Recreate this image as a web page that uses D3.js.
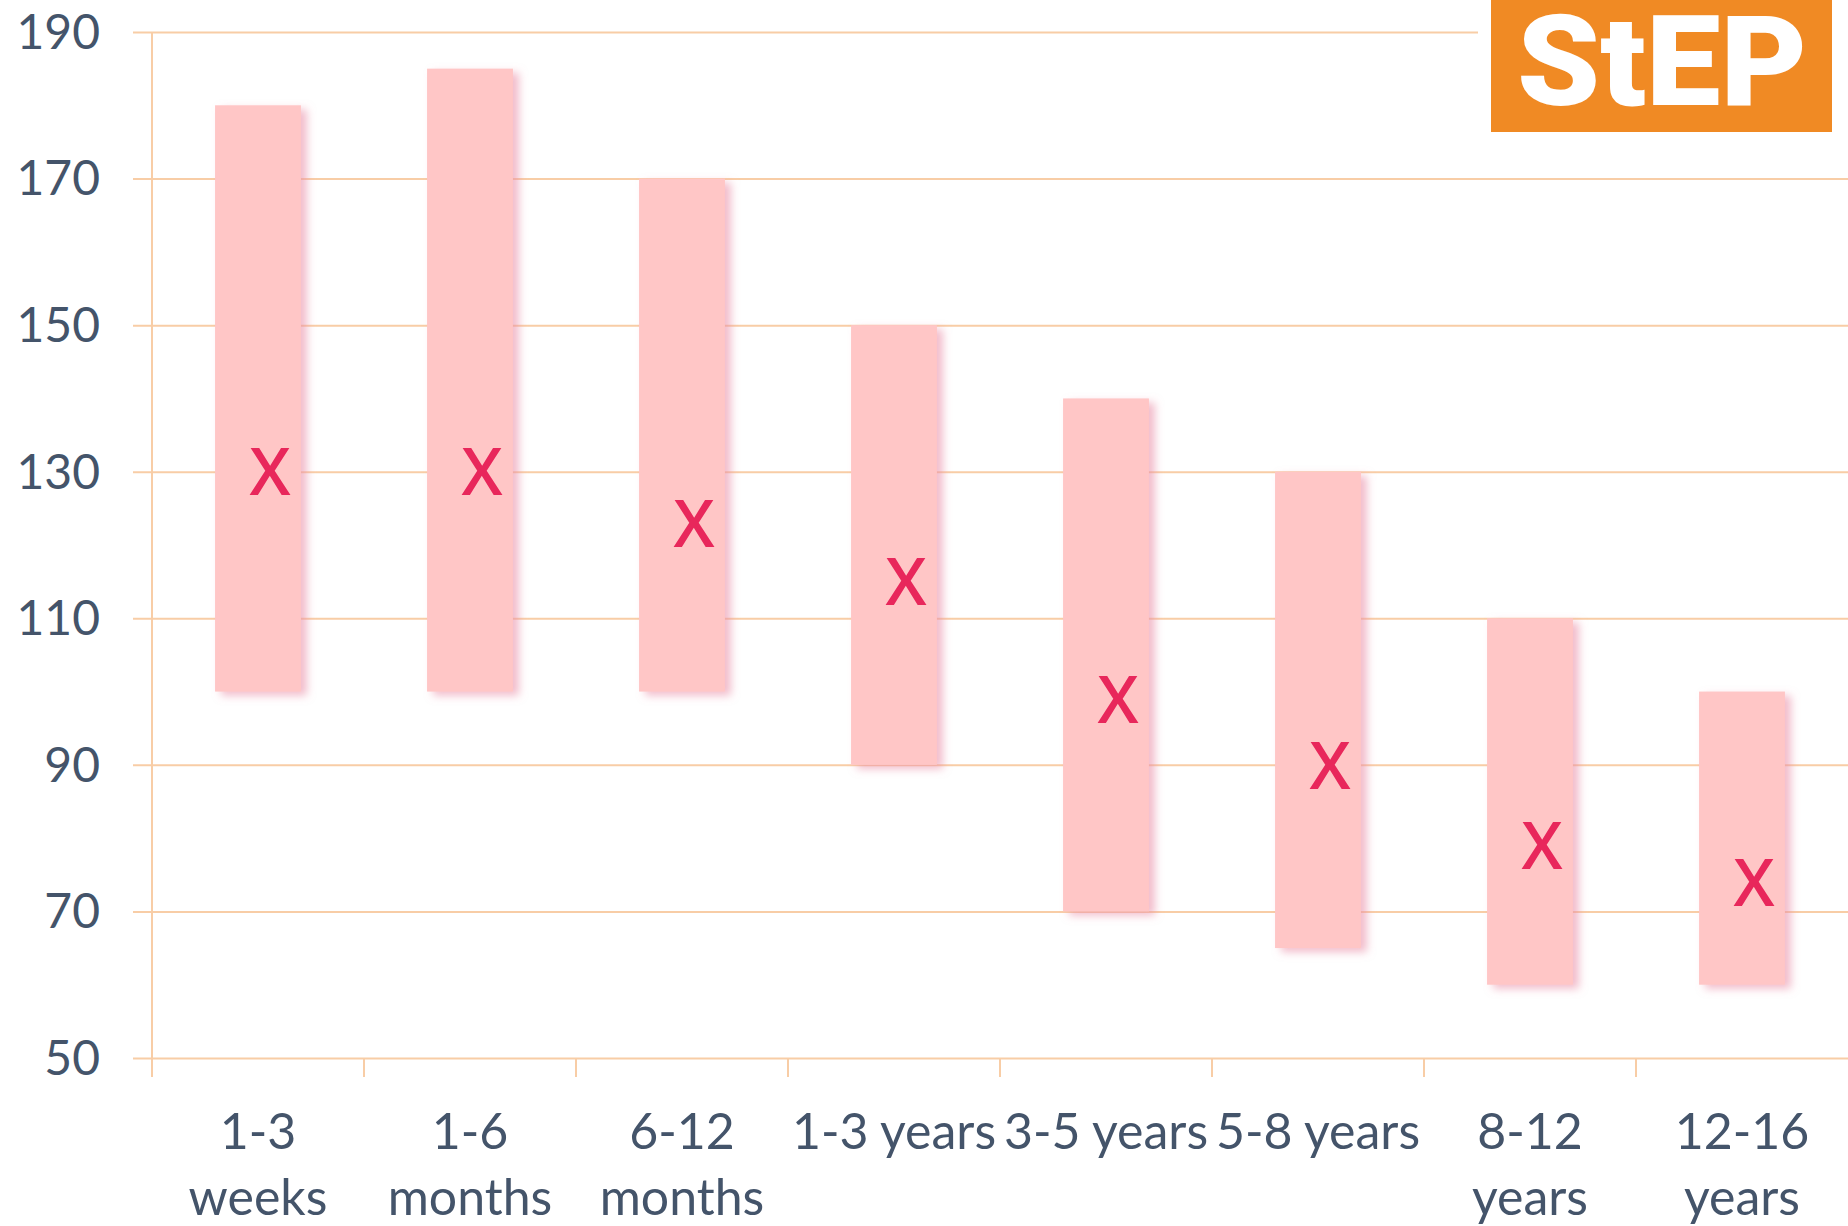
<!DOCTYPE html>
<html>
<head>
<meta charset="utf-8">
<script src="https://cdn.jsdelivr.net/npm/d3@7"></script>
<style>
  html, body { margin: 0; padding: 0; background: #ffffff; }
  svg { display: block; }
</style>
</head>
<body>
<svg id="chart" width="1848" height="1226"></svg>
<script>
// ---- data ----
const categories = ["1-3 weeks", "1-6 months", "6-12 months", "1-3 years", "3-5 years", "5-8 years", "8-12 years", "12-16 years"];
const categoryLines = [["1-3", "weeks"], ["1-6", "months"], ["6-12", "months"], ["1-3 years"], ["3-5 years"], ["5-8 years"], ["8-12", "years"], ["12-16", "years"]];
const lowValues  = [100, 100, 100, 90, 70, 65, 60, 60];
const highValues = [180, 185, 170, 150, 140, 130, 110, 100];
const markValues = [130, 130, 123, 115, 99, 90, 79, 74];
const yTicks = [50, 70, 90, 110, 130, 150, 170, 190];
const logoText = "StEP";

(function () {
// ---- layout ----
const W = 1848, H = 1226;
const plotLeft = 152, plotRight = 1848, plotTop = 32, plotBottom = 1058;
const svg = d3.select("#chart");

const x = d3.scaleBand().domain(categories).range([plotLeft, plotRight]).padding(0);
const y = d3.scaleLinear().domain([50, 190]).range([plotBottom, plotTop]);

const gridColor = "#F8CDA6";
const textColor = "#44546A";

// shadow filter
const defs = svg.append("defs");
const f = defs.append("filter").attr("id", "shadow").attr("x", "-20%").attr("y", "-5%").attr("width", "150%").attr("height", "115%");
f.append("feDropShadow").attr("dx", 6).attr("dy", 4).attr("stdDeviation", 4)
  .attr("flood-color", "#E98FA8").attr("flood-opacity", 0.6);

// y axis with gridlines
const yAxis = d3.axisLeft(y).tickValues(yTicks).tickSize(-(plotRight - plotLeft)).tickSizeOuter(0).tickPadding(52);
const gy = svg.append("g").attr("transform", `translate(${plotLeft},0)`).call(yAxis);
gy.select(".domain").remove();
gy.selectAll(".tick line").attr("x1", -19).attr("stroke", gridColor).attr("stroke-width", 2);
gy.selectAll(".tick text")
  .attr("fill", textColor)
  .style("font-family", "Lato, 'Open Sans', sans-serif")
  .style("font-size", "48px")
  .attr("dy", "0.34em");

// vertical axis line
svg.append("line")
  .attr("x1", plotLeft).attr("x2", plotLeft)
  .attr("y1", y(190)).attr("y2", plotBottom + 18)
  .attr("stroke", gridColor).attr("stroke-width", 2);

// x axis boundary ticks
const gx = svg.append("g").attr("transform", `translate(0,${plotBottom})`)
  .call(d3.axisBottom(x).tickSize(0).tickFormat(""));
gx.select(".domain").remove();
gx.selectAll(".bound").data(categories).enter().append("line")
  .attr("class", "bound")
  .attr("x1", d => x(d)).attr("x2", d => x(d))
  .attr("y1", 0).attr("y2", 19)
  .attr("stroke", gridColor).attr("stroke-width", 2);

// category labels
const lbl = svg.append("g");
categories.forEach((c, i) => {
  const t = lbl.append("text")
    .attr("x", x(c) + x.bandwidth() / 2)
    .attr("y", 1149)
    .attr("text-anchor", "middle")
    .attr("fill", textColor)
    .style("font-family", "Lato, 'Open Sans', sans-serif")
    .style("font-size", "50px");
  categoryLines[i].forEach((ln, j) => {
    t.append("tspan").attr("x", x(c) + x.bandwidth() / 2).attr("dy", j === 0 ? 0 : 66).text(ln);
  });
});

// range bars
const bw = x.bandwidth() * 0.405;
svg.append("g").selectAll("rect").data(categories).enter().append("rect")
  .attr("x", d => x(d) + x.bandwidth() / 2 - bw / 2)
  .attr("width", bw)
  .attr("y", (d, i) => y(highValues[i]))
  .attr("height", (d, i) => y(lowValues[i]) - y(highValues[i]))
  .attr("fill", "#FFC6C6")
  .attr("filter", "url(#shadow)");

// X markers
svg.append("g").selectAll("text").data(categories).enter().append("text")
  .attr("x", d => x(d) + x.bandwidth() / 2 + 12)
  .attr("y", (d, i) => y(markValues[i]))
  .attr("dy", "0.36em")
  .attr("text-anchor", "middle")
  .attr("fill", "#E8275B")
  .style("font-family", "'Open Sans', Lato, sans-serif")
  .style("font-weight", "600")
  .style("font-size", "66px")
  .text("X");

// logo
svg.append("rect").attr("x", 1478).attr("y", 0).attr("width", W - 1478).attr("height", 145).attr("fill", "#ffffff");
svg.append("rect").attr("x", 1491).attr("y", 0).attr("width", 341).attr("height", 132).attr("fill", "#F08A24");
svg.append("text")
  .attr("x", 1517).attr("y", 105)
  .attr("textLength", 290).attr("lengthAdjust", "spacingAndGlyphs")
  .attr("fill", "#ffffff")
  .style("font-family", "Roboto, 'Liberation Sans', Arial, sans-serif")
  .style("font-weight", "900")
  .style("font-size", "126px")
  .text(logoText);
})();
</script>
</body>
</html>
